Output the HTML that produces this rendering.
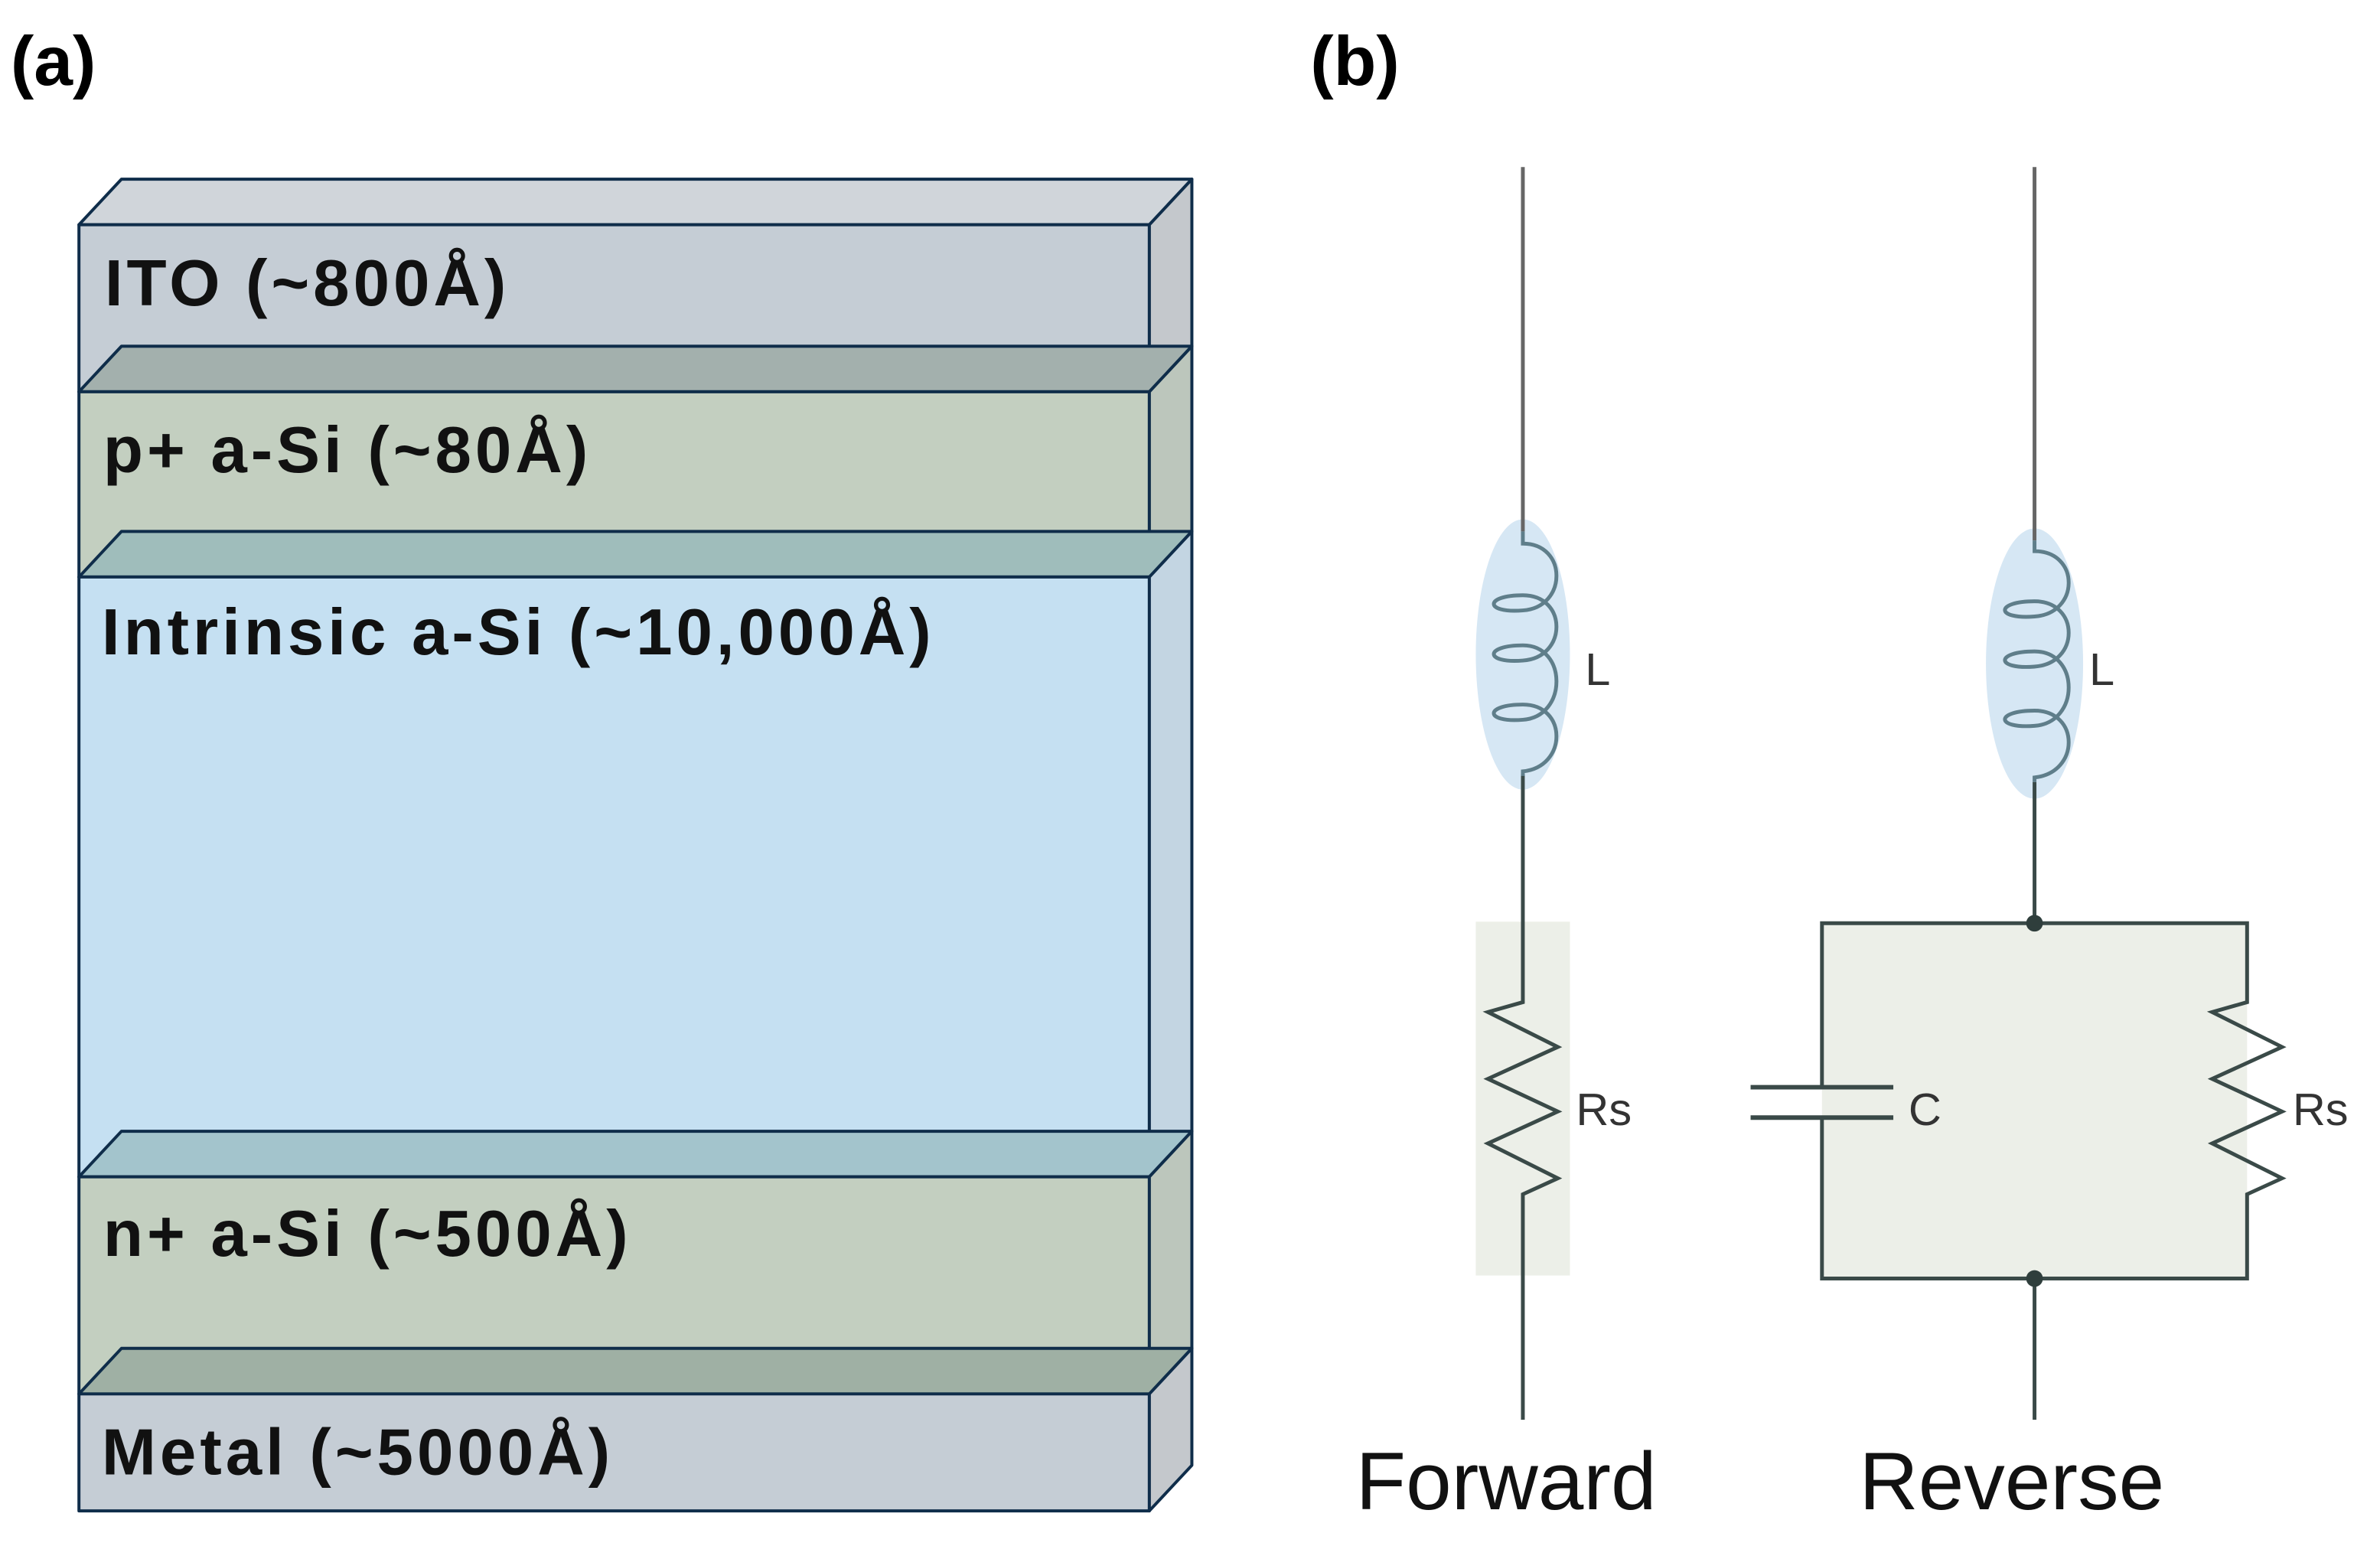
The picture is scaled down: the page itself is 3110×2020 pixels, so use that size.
<!DOCTYPE html>
<html><head><meta charset="utf-8"><style>
html,body{margin:0;padding:0;background:#fff}
svg{display:block}
</style></head><body>
<svg width="3110" height="2020" viewBox="0 0 3110 2020" xmlns="http://www.w3.org/2000/svg">
<g transform="scale(0.992)">
<g font-family="Liberation Sans, sans-serif" font-weight="bold" font-size="92" fill="#000">
<text x="14" y="112">(a)</text>
<text x="1726" y="112">(b)</text>
</g>
<g stroke="#0f2d4a" stroke-width="4" stroke-linejoin="round">
<polygon points="104,296 160,236 1570,236 1514,296" fill="#d0d5da"/>
<rect x="104" y="296" width="1410" height="220" fill="#c5cdd5"/>
<polygon points="1514,296 1570,236 1570,456 1514,516" fill="#c4c8cc"/>
<polygon points="104,516 160,456 1570,456 1514,516" fill="#a3b0ad"/>
<rect x="104" y="516" width="1410" height="244" fill="#c3cfc0"/>
<polygon points="1514,516 1570,456 1570,700 1514,760" fill="#bcc6bc"/>
<polygon points="104,760 160,700 1570,700 1514,760" fill="#9fbdbb"/>
<rect x="104" y="760" width="1410" height="790" fill="#c5e0f2"/>
<polygon points="1514,760 1570,700 1570,1490 1514,1550" fill="#c3d5e2"/>
<polygon points="104,1550 160,1490 1570,1490 1514,1550" fill="#a3c4cc"/>
<rect x="104" y="1550" width="1410" height="286" fill="#c3cfc0"/>
<polygon points="1514,1550 1570,1490 1570,1776 1514,1836" fill="#bcc6bc"/>
<polygon points="104,1836 160,1776 1570,1776 1514,1836" fill="#9fb0a4"/>
<rect x="104" y="1836" width="1410" height="154" fill="#c5cdd5"/>
<polygon points="1514,1836 1570,1776 1570,1930 1514,1990" fill="#c4c8cc"/>
</g>
<g font-family="Liberation Sans, sans-serif" font-weight="bold" font-size="86" fill="#111" letter-spacing="5">
<text x="138" y="402">ITO (~800Å)</text>
<text x="136" y="622">p+ a-Si (~80Å)</text>
<text x="134" y="862">Intrinsic a-Si (~10,000Å)</text>
<text x="136" y="1654">n+ a-Si (~500Å)</text>
<text x="134" y="1942">Metal (~5000Å)</text>
</g>
<rect x="1944" y="1214" width="124" height="466" fill="#ecefe8"/>
<rect x="2400" y="1216" width="560" height="468" fill="#ecefe8"/>
<ellipse cx="2006" cy="862" rx="62" ry="178" fill="#d6e7f4"/>
<ellipse cx="2680" cy="874" rx="64" ry="178" fill="#d6e7f4"/>
<g fill="none" stroke="#3a4a48" stroke-width="5">
<line x1="2006" y1="220" x2="2006" y2="700" stroke="#666"/>
<line x1="2680" y1="220" x2="2680" y2="712" stroke="#666"/>
<line x1="2006" y1="1020" x2="2006" y2="1312"/>
<polyline points="2006,1312 2006,1320 1960,1333 2052,1379 1960,1421 2052,1464 1960,1506 2052,1552 2006,1573 2006,1870"/>
<line x1="2680" y1="1030" x2="2680" y2="1216"/>
<polyline points="2680,1216 2400,1216 2400,1432"/>
<polyline points="2400,1472 2400,1684 2960,1684 2960,1573 3006,1552 2914,1506 3006,1464 2914,1421 3006,1379 2914,1333 2960,1320 2960,1216 2680,1216"/>
<line x1="2680" y1="1684" x2="2680" y2="1870"/>
<line x1="2306" y1="1432" x2="2494" y2="1432" stroke-width="6"/>
<line x1="2306" y1="1472" x2="2494" y2="1472" stroke-width="6"/>
</g>
<g fill="none" stroke="#5f7e8a" stroke-width="5">
<path d="M2006,700 L2006,716 C2065,716 2065,800 2006,804 C1955,808 1955,784 2006,784 C2065,784 2065,866 2006,870 C1955,874 1955,850 2006,850 C2065,850 2065,944 2006,948 C1955,952 1955,928 2006,928 C2065,928 2065,1010 2006,1016 L2006,1022"/>
<path d="M2680,712 L2680,726 C2740,726 2740,808 2680,812 C2628,816 2628,792 2680,792 C2740,792 2740,874 2680,878 C2628,882 2628,858 2680,858 C2740,858 2740,952 2680,956 C2628,960 2628,936 2680,936 C2740,936 2740,1018 2680,1024 L2680,1030"/>
</g>
<circle cx="2680" cy="1216" r="11" fill="#2f3e3c"/>
<circle cx="2680" cy="1684" r="11" fill="#2f3e3c"/>
<g font-family="Liberation Sans, sans-serif" font-size="60" fill="#333">
<text x="2088" y="902">L</text>
<text x="2752" y="902">L</text>
<text x="2076" y="1482">Rs</text>
<text x="2514" y="1482">C</text>
<text x="3020" y="1482">Rs</text>
</g>
<g font-family="Liberation Sans, sans-serif" font-size="108" fill="#111" text-anchor="middle">
<text x="1984" y="1988">Forward</text>
<text x="2650" y="1988">Reverse</text>
</g>
</g>
</svg>
</body></html>
